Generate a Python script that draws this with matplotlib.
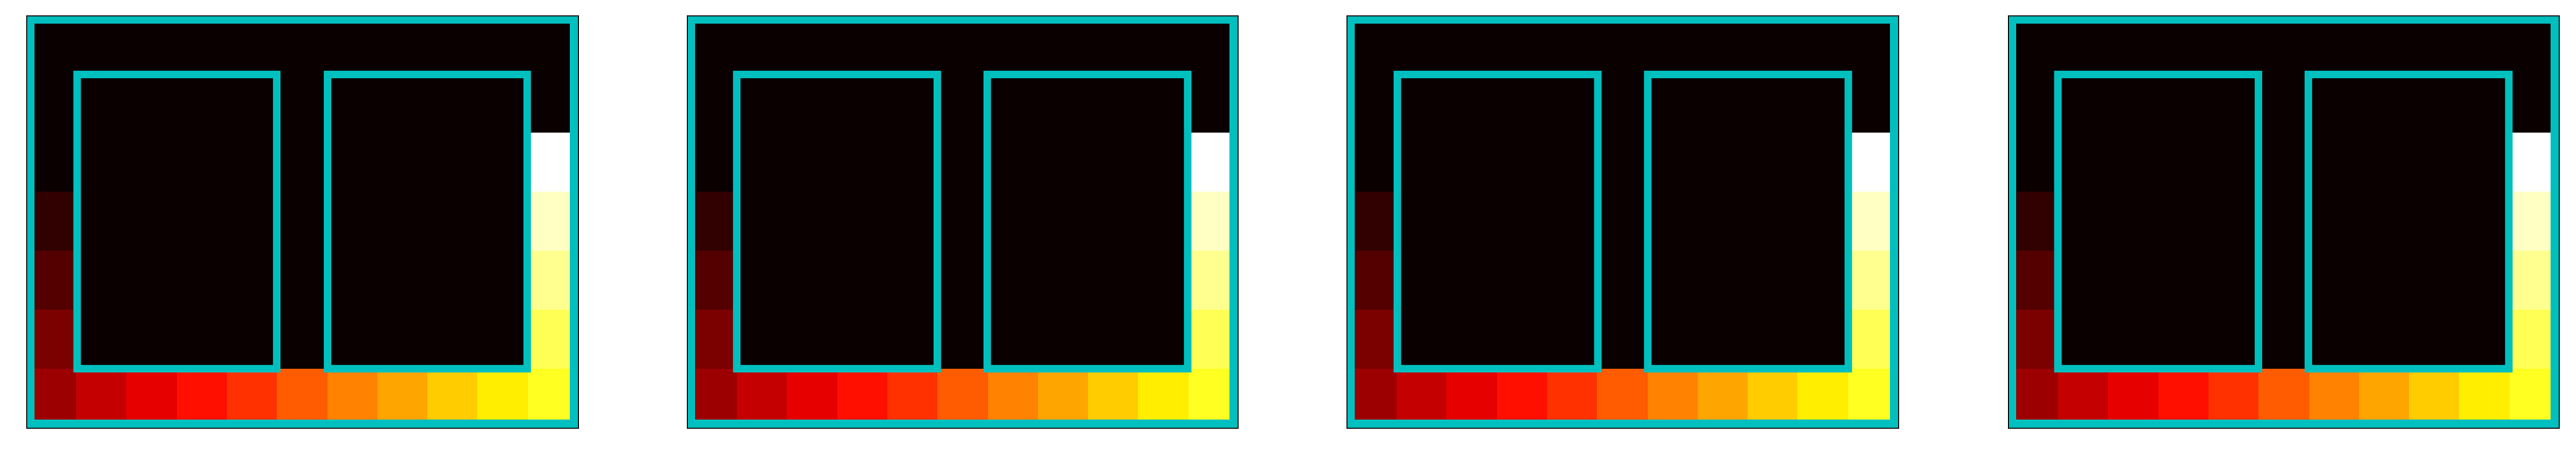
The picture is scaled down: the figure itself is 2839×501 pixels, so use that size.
import numpy as np
import matplotlib
matplotlib.use("Agg")
import matplotlib.pyplot as plt
from matplotlib.patches import Rectangle

# ---- data ----
n_rows = 7
n_cols = 11
# left column, rows 2..6 (top to bottom)
left_column = [0.00, 0.06, 0.11, 0.17]          # rows 2,3,4,5
# bottom row, cols 0..10 (left to right)
bottom_row = [0.22, 0.28, 0.33, 0.39, 0.44, 0.50, 0.56, 0.61, 0.67, 0.72, 0.78]
# right column, rows 5..2 (bottom to top)
right_column = [0.83, 0.89, 0.94, 1.00]          # rows 5,4,3,2
# highlighted boxes in cell coordinates: (first col, first row, last col, last row)
boxes = [(1, 1, 4, 5), (6, 1, 9, 5)]
n_panels = 4

grid = np.zeros((n_rows, n_cols))
for i, v in enumerate(left_column):
    grid[2 + i, 0] = v
grid[n_rows - 1, :] = bottom_row
for i, v in enumerate(right_column):
    grid[n_rows - 2 - i, n_cols - 1] = v

W, H = 2839, 502
fig = plt.figure(figsize=(W / 100, H / 100), dpi=100)

ax_w = 607.4 / W
ax_h = 454.3 / H
ax_b = 30.0 / H
lefts_px = [29.3, 757.0, 1484.5, 2212.5]

for p in range(n_panels):
    ax = fig.add_axes([lefts_px[p] / W, ax_b, ax_w, ax_h])
    ax.imshow(grid, cmap="hot", aspect="auto", interpolation="nearest",
              vmin=0, vmax=1)
    # outer frame rectangle around the full grid
    ax.add_patch(Rectangle((-0.5, -0.5), n_cols, n_rows, fill=False,
                           edgecolor="c", linewidth=13))
    for (c0, r0, c1, r1) in boxes:
        ax.add_patch(Rectangle((c0 - 0.5, r0 - 0.5), c1 - c0 + 1, r1 - r0 + 1,
                               fill=False, edgecolor="c", linewidth=6))
    ax.set_xlim(-0.5, n_cols - 0.5)
    ax.set_ylim(n_rows - 0.5, -0.5)
    ax.set_xticks([])
    ax.set_yticks([])

fig.savefig("out.png", dpi=100)
